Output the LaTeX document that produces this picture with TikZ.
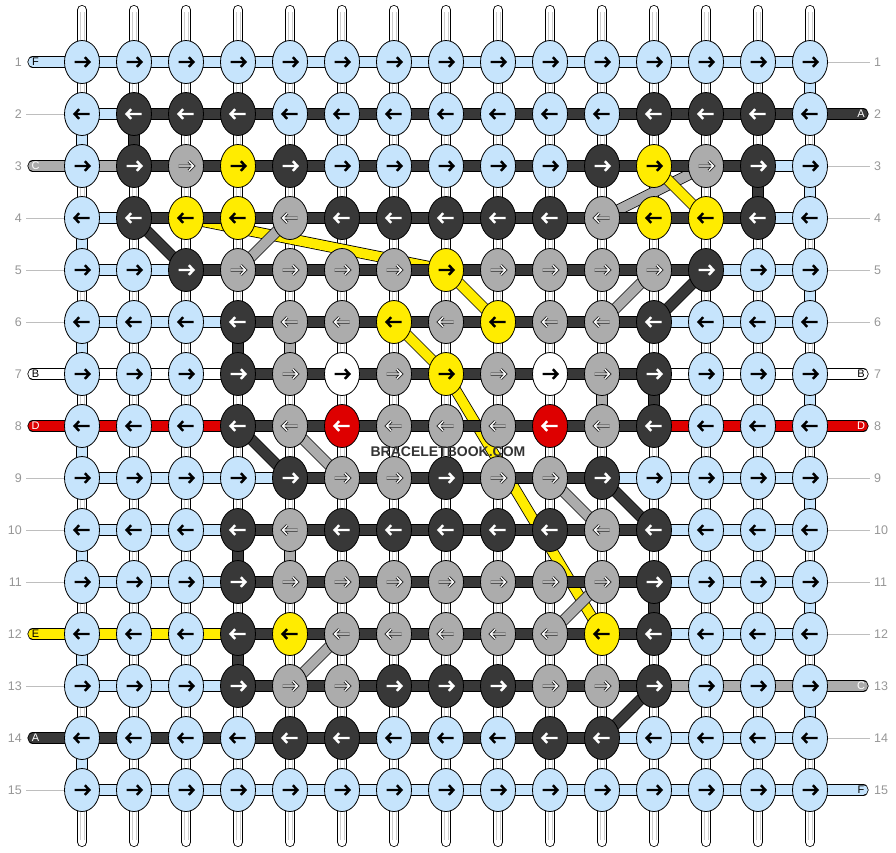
\documentclass[tikz,border=0pt]{standalone}
\usepackage{fontspec}
\setmainfont{Liberation Sans}
\usetikzlibrary{shapes.geometric}

\definecolor{cL}{RGB}{198,228,252}
\definecolor{cD}{RGB}{56,56,56}
\definecolor{cG}{RGB}{172,172,172}
\definecolor{cY}{RGB}{255,236,0}
\definecolor{cW}{RGB}{255,255,255}
\definecolor{cR}{RGB}{222,0,0}
\definecolor{numgray}{RGB}{150,150,150}
\definecolor{linegray}{RGB}{190,190,190}

\tikzset{
  knot/.style={ellipse, draw=black, line width=0.8pt, minimum width=35pt, minimum height=43pt, inner sep=0pt},
  strand/.style={draw=black, line width=0.8pt, double=#1, double distance=9.6pt},
  warpbar/.style={draw=black, line width=0.8pt, double=white, double distance=8.4pt, line cap=round},
  warpline/.style={draw=black!20, line width=0.6pt},
  arrowline/.style={line width=2.4pt},
  arrL/.style={draw=black}, arrY/.style={draw=black}, arrW/.style={draw=black},
  arrD/.style={draw=white}, arrR/.style={draw=white},
  arrG/.style={draw=white, line width=1.2pt, preaction={draw=black!85, line width=3pt}},
  rownum/.style={text=numgray, inner sep=0pt, font=\fontsize{12.5}{13}\selectfont},
  tag/.style={inner sep=0pt, font=\fontsize{11}{11}\selectfont},
  tagline/.style={draw=linegray, line width=0.8pt}
}

% row / direction / knots / pieces between knots
\def\rowdata{%
 1/1/{L,L,L,L,L,L,L,L,L,L,L,L,L,L,L}/{L,L,L,L,L,L,L,L,L,L,L,L,L,L},
 2/-1/{L,D,D,D,L,L,L,L,L,L,L,D,D,D,L}/{L,D,D,D,D,D,D,D,D,D,D,D,D,D},
 3/1/{L,D,G,Y,D,L,L,L,L,L,D,Y,G,D,L}/{G,D,D,D,D,D,D,D,D,D,D,D,D,L},
 4/-1/{L,D,Y,Y,G,D,D,D,D,D,G,Y,Y,D,L}/{L,D,D,D,D,D,D,D,D,D,D,D,D,L},
 5/1/{L,L,D,G,G,G,G,Y,G,G,G,G,D,L,L}/{L,L,D,D,D,D,D,D,D,D,D,D,L,L},
 6/-1/{L,L,L,D,G,G,Y,G,Y,G,G,D,L,L,L}/{L,L,L,D,D,D,D,D,D,D,D,L,L,L},
 7/1/{L,L,L,D,G,W,G,Y,G,W,G,D,L,L,L}/{W,W,W,D,D,D,D,D,D,D,D,W,W,W},
 8/-1/{L,L,L,D,G,R,G,G,G,R,G,D,L,L,L}/{R,R,R,D,D,D,D,D,D,D,D,R,R,R},
 9/1/{L,L,L,L,D,G,G,D,G,G,D,L,L,L,L}/{L,L,L,L,D,D,D,D,D,D,L,L,L,L},
 10/-1/{L,L,L,D,G,D,D,D,D,D,G,D,L,L,L}/{L,L,L,D,D,D,D,D,D,D,D,L,L,L},
 11/1/{L,L,L,D,G,G,G,G,G,G,G,D,L,L,L}/{L,L,L,D,D,D,D,D,D,D,D,L,L,L},
 12/-1/{L,L,L,D,Y,G,G,G,G,G,Y,D,L,L,L}/{Y,Y,Y,D,D,D,D,D,D,D,D,L,L,L},
 13/1/{L,L,L,D,G,G,D,D,D,G,G,D,L,L,L}/{L,L,L,D,D,D,D,D,D,D,D,G,G,G},
 14/-1/{L,L,L,L,D,D,L,L,L,D,D,L,L,L,L}/{D,D,D,D,D,D,D,D,D,D,L,L,L,L},
 15/1/{L,L,L,L,L,L,L,L,L,L,L,L,L,L,L}/{L,L,L,L,L,L,L,L,L,L,L,L,L,L}}

\begin{document}
\begin{tikzpicture}[x=1pt, y=-1pt]
  \useasboundingbox (0,0) rectangle (896,852);

  % grid points
  \foreach \r in {1,...,15}
    \foreach \c in {1,...,15}
      \coordinate (p-\r-\c) at ({82+52*(\c-1)},{62+52*(\r-1)});

  % base strings
  \foreach \c in {1,...,15} {
    \coordinate (wt-\c) at ({82+52*(\c-1)},10);
    \coordinate (wb-\c) at ({82+52*(\c-1)},842);
    \draw[warpbar] (wt-\c) -- (wb-\c);
    \draw[warpline] ([xshift=-1.8pt,yshift=-2pt]wt-\c) -- ([xshift=-1.8pt,yshift=2pt]wb-\c);
    \draw[warpline] ([xshift=1.8pt,yshift=-2pt]wt-\c) -- ([xshift=1.8pt,yshift=2pt]wb-\c);
  }

  % strings crossing over between rows
  \foreach \a/\b/\col in {3-13/4-11/G, 3-12/4-13/Y, 4-2/5-3/D, 4-3/5-8/Y, 4-5/5-4/G,
      5-8/6-9/Y, 5-12/6-11/G, 5-13/6-12/D, 6-7/7-8/Y, 7-8/12-11/Y, 8-4/9-5/D,
      8-5/9-6/G, 9-10/10-11/G, 9-11/10-12/D, 11-11/12-10/G, 12-6/13-5/G, 13-12/14-11/D}
    \draw[strand=c\col] (p-\a) -- (p-\b);

  % pieces along each row
  \foreach \r/\d/\k/\s in \rowdata {
    \foreach \sc [count=\c] in \s {
      \pgfmathtruncatemacro\cn{\c+1}
      \draw[strand=c\sc] (p-\r-\c) -- (p-\r-\cn);
    }
  }

  % strings going down
  \foreach \r/\c/\col in {1/15/L, 2/1/L, 3/15/L, 4/1/L, 5/15/L, 6/1/L, 7/15/L,
      8/1/L, 9/15/L, 10/1/L, 11/15/L, 12/1/L, 13/15/L, 14/1/L,
      2/2/D, 3/14/D, 6/4/D, 6/5/G, 7/11/G, 7/12/D, 10/4/D, 10/5/G, 11/12/D, 12/4/D} {
    \pgfmathtruncatemacro\rn{\r+1}
    \draw[strand=c\col] (p-\r-\c) -- (p-\rn-\c);
  }

  % loose ends with letters
  \foreach \r/\t/\col/\tc in {1/F/L/black, 3/C/G/white, 7/B/W/black, 8/D/R/white, 12/E/Y/black, 14/A/D/white} {
    \coordinate (le-\r) at (33,{62+52*(\r-1)});
    \draw[strand=c\col, line cap=round] (le-\r) -- (p-\r-1);
    \node[tag, text=\tc] (lt-\r) at (35.5,{62+52*(\r-1)}) {\t};
  }
  \foreach \r/\t/\col/\tc in {2/A/D/white, 7/B/W/black, 8/D/R/white, 13/C/G/white, 15/F/L/black} {
    \coordinate (re-\r) at (863,{62+52*(\r-1)});
    \draw[strand=c\col, line cap=round] (p-\r-15) -- (re-\r);
    \node[tag, text=\tc] (rt-\r) at (861,{62+52*(\r-1)}) {\t};
  }

  % knots
  \foreach \r/\d/\k/\s in \rowdata {
    \foreach \kc [count=\c] in \k {
      \node[knot, fill=c\kc] (k-\r-\c) at (p-\r-\c) {};
      \begin{scope}[shift={(p-\r-\c)}, xscale=\d]
        \draw[arrowline, arr\kc] (-7.5,0) -- (7.5,0) (2.8,-4.8) -- (7.5,0) -- (2.8,4.8);
      \end{scope}
    }
  }

  % row numbers
  \foreach \r in {1,...,15} {
    \node[rownum, anchor=east] (nl-\r) at (22,{62+52*(\r-1)}) {\r};
    \node[rownum, anchor=west] (nr-\r) at (874,{62+52*(\r-1)}) {\r};
  }
  \foreach \r in {2,4,5,6,9,10,11,13,15} {
    \coordinate (ll-\r) at (26,{62+52*(\r-1)});
    \draw[tagline] (ll-\r) -- (k-\r-1.west);
  }
  \foreach \r in {1,3,4,5,6,9,10,11,12,14} {
    \coordinate (rl-\r) at (870,{62+52*(\r-1)});
    \draw[tagline] (k-\r-15.east) -- (rl-\r);
  }

  \node[text=black!80, font=\bfseries\fontsize{14}{14}\selectfont] (wm) at (448,452) {BRACELETBOOK.COM};
\end{tikzpicture}
\end{document}
